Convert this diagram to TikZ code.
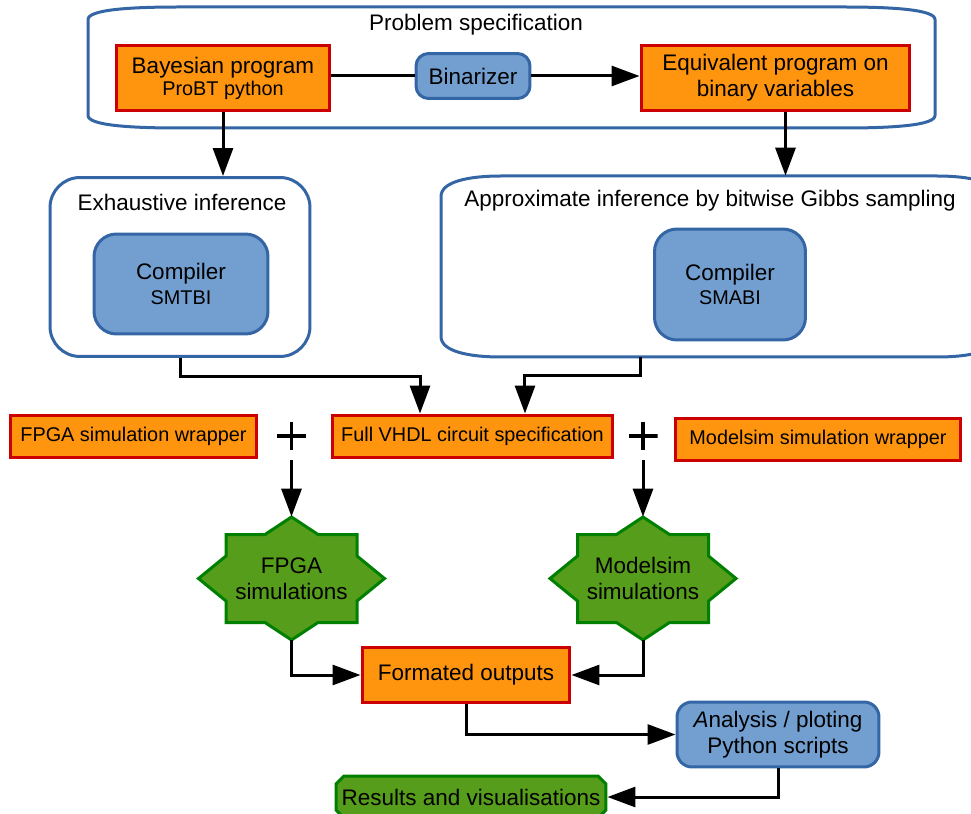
\documentclass[tikz,border=0pt]{standalone}
\usepackage{fontspec}
\setmainfont{Liberation Sans}
\usepackage{tikz}
\usetikzlibrary{calc}
\usetikzlibrary{arrows.meta}
\usetikzlibrary{backgrounds}
\usetikzlibrary{shapes.misc}
\definecolor{ff950e}{rgb}{1.,0.584,0.055}
\definecolor{ccqqqq}{rgb}{0.8,0.,0.}
\definecolor{c729fcf}{rgb}{0.447,0.624,0.812}
\definecolor{c3465a4}{rgb}{0.204,0.396,0.643}
\definecolor{c579d1c}{rgb}{0.341,0.616,0.11}
\definecolor{qq80qq}{rgb}{0.,0.5,0.}
\newcommand{\bigtxt}{\fontsize{12.8}{15}\selectfont}
\newcommand{\smalltxt}{\fontsize{11.3}{13}\selectfont}

\begin{document}
\begin{tikzpicture}[line join=miter,>={Triangle[length=0.56cm,width=0.4cm]},x=0.02cm,y=-0.02cm,
    every node/.style={font=\bigtxt},
    small/.style={font=\smalltxt},
    specbox/.style={draw=ccqqqq,fill=ff950e,line width=0.06cm,align=center,inner sep=0},
    toolbox/.style={draw=c3465a4,fill=c729fcf,line width=0.06cm,align=center,inner sep=0},
    groupline/.style={draw=c3465a4,line width=0.06cm},
    simline/.style={draw=qq80qq,fill=c579d1c,line width=0.06cm},
    starnode/.style={align=center,inner sep=0,minimum width=3.74cm,minimum height=2.46cm},
    resbox/.style={chamfered rectangle,chamfered rectangle xsep=0.08cm,chamfered rectangle ysep=0.08cm,draw=qq80qq,fill=c579d1c,line width=0.06cm,inner sep=0,minimum width=5.4cm,minimum height=0.84cm},
    plussign/.style={minimum size=0.58cm,inner sep=0,path picture={\draw[line width=0.07cm] (path picture bounding box.north) -- (path picture bounding box.south) (path picture bounding box.west) -- (path picture bounding box.east);}},
    link/.style={->,line width=0.06cm},
    wire/.style={line width=0.06cm}]
            \useasboundingbox (0,0) rectangle (971,814);
            \clip (0,0) rectangle (971,814);
            % problem specification
            \node[minimum width=16.94cm,minimum height=2.42cm] (spec) at (511.5,67.5) {};
            \draw[groupline,shift={(spec)}] (-423.5,-48) -- (-423.5,48) .. controls (-423.5,58) and (-380,60.5) .. (-333,60.5) -- (333,60.5) .. controls (380,60.5) and (423.5,58) .. (423.5,48) -- (423.5,-48) .. controls (423.5,-58) and (380,-60.5) .. (333,-60.5) -- (-333,-60.5) .. controls (-380,-60.5) and (-423.5,-58) .. (-423.5,-48) -- cycle;
            \node (spectitle) at (476,25) {Problem specification};
            \node[specbox,minimum width=4.28cm,minimum height=1.32cm] (bayes) at (223,78) {Bayesian program\\[-2.5pt]{\smalltxt ProBT python}};
            \node[toolbox,rounded corners=0.25cm,minimum width=2.28cm,minimum height=0.9cm] (binar) at (473,76) {Binarizer};
            \node[specbox,minimum width=5.38cm,minimum height=1.32cm] (equiv) at (775.5,78) {Equivalent program on\\binary variables};
            \draw[wire] (bayes.east |- binar.west) -- (binar.west);
            \draw[link] (binar.east) -- (binar.east -| equiv.west);
            % inference
            \node[minimum width=5.2cm,minimum height=3.58cm,rounded corners=0.6cm,groupline] (exh) at (180,267) {};
            \node (exhtitle) at (182,202) {Exhaustive inference};
            \node[toolbox,rounded corners=0.45cm,minimum width=3.48cm,minimum height=2cm] (smtbi) at (181,284) {Compiler\\[-1pt]{\smalltxt SMTBI}};
            \node[minimum width=11.12cm,minimum height=3.62cm] (approx) at (719,266.5) {};
            \draw[groupline,shift={(approx)}] (-278,-70) -- (-278,70) .. controls (-278,85) and (-250,90.5) .. (-218,90.5) -- (218,90.5) .. controls (250,90.5) and (278,85) .. (278,70) -- (278,-70) .. controls (278,-85) and (250,-90.5) .. (218,-90.5) -- (-218,-90.5) .. controls (-250,-90.5) and (-278,-85) .. (-278,-70) -- cycle;
            \node (apptitle) at (710,201) {Approximate inference by bitwise Gibbs sampling};
            \node[toolbox,rounded corners=0.45cm,minimum width=3.02cm,minimum height=2.22cm] (smabi) at (730,284.5) {Compiler\\[-1pt]{\smalltxt SMABI}};
            \draw[link] (bayes.south) -- (bayes.south |- exh.north);
            \draw[link] ($(equiv.south)+(10,0)$) -- ($(equiv.south |- approx.north)+(10,0)$);
            % circuit
            \node[specbox,small,minimum width=4.94cm,minimum height=0.86cm] (fwrap) at (133.5,436.5) {FPGA simulation wrapper};
            \node[plussign] (plusL) at (291.5,436) {};
            \node[specbox,small,minimum width=5.62cm,minimum height=0.86cm] (vhdl) at (472.5,436.5) {Full VHDL circuit specification};
            \node[plussign] (plusR) at (643,436) {};
            \node[specbox,small,minimum width=5.72cm,minimum height=0.86cm] (mwrap) at (818,439.5) {Modelsim simulation wrapper};
            \draw[link] (exh.south) -- ++(0,19) -| ([xshift=-1.05cm]vhdl.north);
            \draw[link] ([xshift=-1.58cm]approx.south) -- ++(0,18) -| ([xshift=1.05cm]vhdl.north);
            % simulations
            \node[starnode] (fstar) at (291.5,578.5) {FPGA\\simulations};
            \node[starnode] (mstar) at (643,578.5) {Modelsim\\simulations};
            \begin{scope}[on background layer]
            \foreach \s in {fstar,mstar}
              \draw[simline,shift={(\s)}] (0,-61.5) -- (26.5,-44) -- (65.5,-44) -- (65.5,-22.5) -- (93,0) -- (65.5,22.5) -- (65.5,44) -- (26.5,44) -- (0,61.5) -- (-26.5,44) -- (-65.5,44) -- (-65.5,22.5) -- (-93,0) -- (-65.5,-22.5) -- (-65.5,-44) -- (-26.5,-44) -- cycle;
            \end{scope}
            \draw[link] ([yshift=-0.19cm]plusL.south) -- (fstar.north);
            \draw[link] ([yshift=-0.19cm]plusR.south) -- (mstar.north);
            % outputs
            \node[specbox,minimum width=4.16cm,minimum height=1.12cm] (fmt) at (466,675) {Formated outputs};
            \draw[link] (fstar.south) |- (fmt.west);
            \draw[link] (mstar.south) |- (fmt.east);
            \node[toolbox,rounded corners=0.3cm,minimum width=4.04cm,minimum height=1.3cm] (plot) at (778,734.5) {\textit{A}nalysis / ploting\\Python scripts};
            \draw[link] (fmt.south) |- (plot.west);
            \node[resbox] (res) at (471,797) {Results and visualisations};
            \draw[link] (plot.south) |- (res.east);
\end{tikzpicture}
\end{document}
